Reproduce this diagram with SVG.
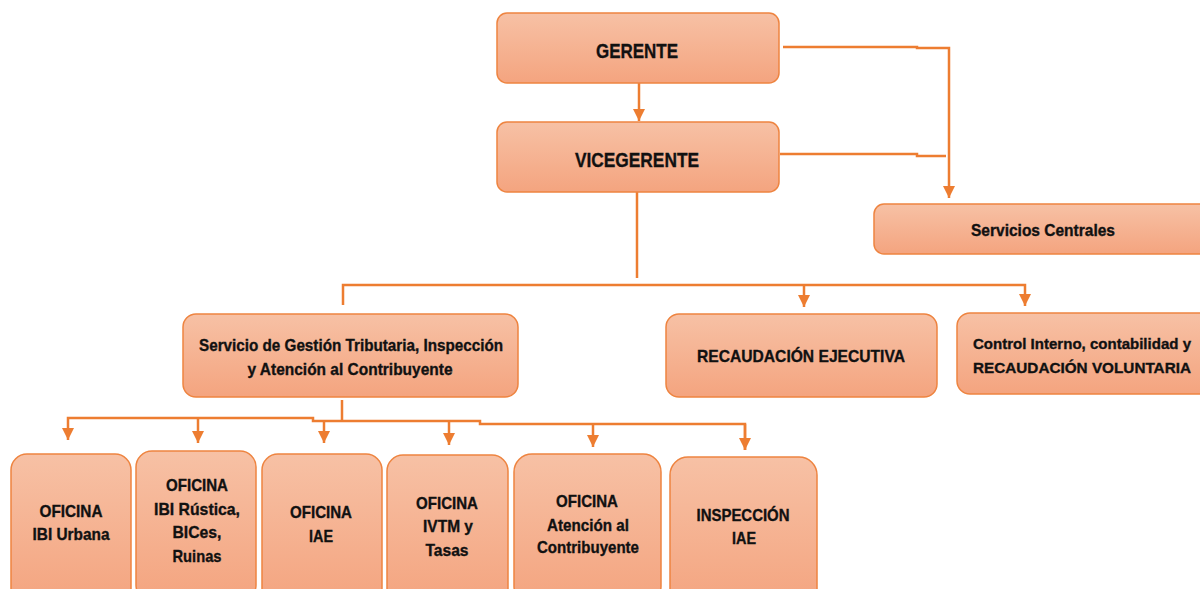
<svg xmlns="http://www.w3.org/2000/svg" width="1200" height="589" viewBox="0 0 1200 589">
<defs>
<linearGradient id="g" x1="0" y1="0" x2="0" y2="1">
<stop offset="0" stop-color="#F7C1A5"/>
<stop offset="1" stop-color="#F4A47F"/>
</linearGradient>
<marker id="ah" markerUnits="userSpaceOnUse" markerWidth="12" markerHeight="12" viewBox="0 0 10 10" refX="10" refY="5" orient="auto">
<path d="M0,0 L10,5 L0,10 z" fill="#ED7D31"/>
</marker>
</defs>
<style>
.box{fill:url(#g);stroke:#EE8440;stroke-width:1.5}
.t{font-family:"Liberation Sans",Arial,sans-serif;font-weight:bold;fill:#111;text-anchor:middle;stroke:#111;stroke-width:0.35}
.c{fill:none;stroke:#ED7D31;stroke-width:2.5}
</style>
<rect width="1200" height="589" fill="#fff"/>
<g id="connectors">
<path class="c" d="M639 83 V121" marker-end="url(#ah)"/>
<path class="c" d="M783 47 H917 V48 H949 V198" marker-end="url(#ah)"/>
<path class="c" d="M780 154 H917 V156 H946"/>
<path class="c" d="M637 192 V278"/>
<path class="c" d="M343 305 V285 H1025 V306" marker-end="url(#ah)"/>
<path class="c" d="M804 285 V307" marker-end="url(#ah)"/>
<path class="c" d="M342 400 V420"/>
<path class="c" d="M745 450 V424 H480 V421 H313 V418 H68 V440" marker-end="url(#ah)"/>
<path class="c" d="M745 424 V450" marker-end="url(#ah)"/>
<path class="c" d="M198 419 V443" marker-end="url(#ah)"/>
<path class="c" d="M324 421 V443" marker-end="url(#ah)"/>
<path class="c" d="M449 422 V445" marker-end="url(#ah)"/>
<path class="c" d="M593 424 V447" marker-end="url(#ah)"/>
</g>
<g id="gerente">
<rect class="box" x="497" y="13" width="282" height="70" rx="10"/>
<text class="t" x="637" y="58" font-size="21" textLength="82" lengthAdjust="spacingAndGlyphs">GERENTE</text>
</g>
<g id="vicegerente">
<rect class="box" x="497" y="122" width="282" height="70" rx="10"/>
<text class="t" x="637" y="167" font-size="21" textLength="124" lengthAdjust="spacingAndGlyphs">VICEGERENTE</text>
</g>
<g id="servicios-centrales">
<rect class="box" x="874" y="204" width="340" height="50" rx="10"/>
<text class="t" x="1043" y="236" font-size="16.5" textLength="144" lengthAdjust="spacingAndGlyphs">Servicios Centrales</text>
</g>
<g id="gestion-tributaria">
<rect class="box" x="183" y="314" width="335" height="83" rx="13"/>
<text class="t" x="351" y="351" font-size="17" textLength="304" lengthAdjust="spacingAndGlyphs">Servicio de Gestión Tributaria, Inspección</text>
<text class="t" x="350" y="375" font-size="17" textLength="205" lengthAdjust="spacingAndGlyphs">y Atención al Contribuyente</text>
</g>
<g id="recaudacion-ejecutiva">
<rect class="box" x="666" y="314" width="271" height="83" rx="13"/>
<text class="t" x="801" y="362" font-size="17" textLength="208" lengthAdjust="spacingAndGlyphs">RECAUDACIÓN EJECUTIVA</text>
</g>
<g id="control-interno">
<rect class="box" x="957" y="313" width="260" height="81" rx="13"/>
<text class="t" x="1082" y="349" font-size="15.3" textLength="218" lengthAdjust="spacingAndGlyphs">Control Interno, contabilidad y</text>
<text class="t" x="1082" y="373" font-size="15.3" textLength="218" lengthAdjust="spacingAndGlyphs">RECAUDACIÓN VOLUNTARIA</text>
</g>
<g id="oficina-ibi-urbana">
<rect class="box" x="11" y="454" width="120" height="150" rx="16"/>
<text class="t" x="71" y="517" font-size="17" textLength="63" lengthAdjust="spacingAndGlyphs">OFICINA</text>
<text class="t" x="71" y="540" font-size="17" textLength="77" lengthAdjust="spacingAndGlyphs">IBI Urbana</text>
</g>
<g id="oficina-ibi-rustica">
<rect class="box" x="136" y="451" width="120" height="150" rx="16"/>
<text class="t" x="197" y="491" font-size="17" textLength="62" lengthAdjust="spacingAndGlyphs">OFICINA</text>
<text class="t" x="197" y="515" font-size="17" textLength="86" lengthAdjust="spacingAndGlyphs">IBI Rústica,</text>
<text class="t" x="197" y="538" font-size="17" textLength="49" lengthAdjust="spacingAndGlyphs">BICes,</text>
<text class="t" x="197" y="562" font-size="17" textLength="49" lengthAdjust="spacingAndGlyphs">Ruinas</text>
</g>
<g id="oficina-iae">
<rect class="box" x="262" y="454" width="120" height="150" rx="16"/>
<text class="t" x="321" y="518" font-size="17" textLength="62" lengthAdjust="spacingAndGlyphs">OFICINA</text>
<text class="t" x="321" y="542" font-size="17" textLength="24" lengthAdjust="spacingAndGlyphs">IAE</text>
</g>
<g id="oficina-ivtm">
<rect class="box" x="387" y="455" width="121" height="150" rx="16"/>
<text class="t" x="447" y="509" font-size="17" textLength="62" lengthAdjust="spacingAndGlyphs">OFICINA</text>
<text class="t" x="448" y="532" font-size="17" textLength="50" lengthAdjust="spacingAndGlyphs">IVTM y</text>
<text class="t" x="447" y="556" font-size="17" textLength="43" lengthAdjust="spacingAndGlyphs">Tasas</text>
</g>
<g id="oficina-atencion">
<rect class="box" x="514" y="454" width="147" height="150" rx="18"/>
<text class="t" x="587" y="507" font-size="17" textLength="62" lengthAdjust="spacingAndGlyphs">OFICINA</text>
<text class="t" x="588" y="531" font-size="17" textLength="82" lengthAdjust="spacingAndGlyphs">Atención al</text>
<text class="t" x="588" y="553" font-size="17" textLength="102" lengthAdjust="spacingAndGlyphs">Contribuyente</text>
</g>
<g id="inspeccion-iae">
<rect class="box" x="670" y="457" width="147" height="150" rx="18"/>
<text class="t" x="743" y="521" font-size="17" textLength="93" lengthAdjust="spacingAndGlyphs">INSPECCIÓN</text>
<text class="t" x="744" y="544" font-size="17" textLength="24" lengthAdjust="spacingAndGlyphs">IAE</text>
</g>
</svg>
